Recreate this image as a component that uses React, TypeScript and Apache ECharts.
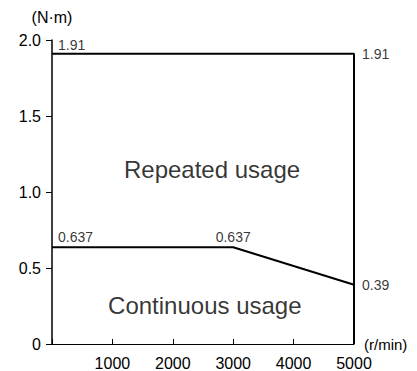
import React, { useEffect, useRef } from "react";
import * as echarts from "echarts";

const repeatedUsage: [number, number][] = [
  [0, 1.91],
  [5000, 1.91],
  [5000, 0],
];
const continuousUsage: [number, number][] = [
  [0, 0.637],
  [3000, 0.637],
  [5000, 0.39],
];
const valueLabels: [number, number][] = [
  [0, 1.91],
  [5000, 1.91],
  [0, 0.637],
  [3000, 0.637],
  [5000, 0.39],
];
const labelOffsets: [number, number][] = [
  [6, -9],
  [8, 0],
  [6, -10],
  [0, -10],
  [8, 0],
];
const labelAligns = ["left", "left", "left", "center", "left"];
const regionNames = ["Repeated usage", "Continuous usage"];
const regionPoints: [number, number][] = [
  [2650, 1.145],
  [2530, 0.255],
];

const FONT = "Liberation Sans, Arial, Helvetica, sans-serif";

export default function App() {
  const ref = useRef<HTMLDivElement>(null);
  useEffect(() => {
    if (!ref.current) return;
    const chart = echarts.init(ref.current, undefined, { renderer: "svg" });
    chart.setOption({
      animation: false,
      backgroundColor: "#ffffff",
      grid: { left: 52, right: 63, top: 40, bottom: 27, containLabel: false },
      xAxis: {
        type: "value",
        min: 0,
        max: 5000,
        interval: 1000,
        name: "(r/min)",
        nameLocation: "end",
        nameGap: 10,
        nameTextStyle: { color: "#000", fontSize: 15, fontFamily: FONT, verticalAlign: "middle" },
        axisLine: { show: true, lineStyle: { color: "#000", width: 1.2 } },
        axisTick: { show: true, inside: true, length: 5, lineStyle: { color: "#000" } },
        axisLabel: {
          color: "#000",
          fontSize: 16,
          fontFamily: FONT,
          margin: 11,
          formatter: (v: number) => (v === 0 ? "" : String(v)),
        },
        splitLine: { show: false },
      },
      yAxis: {
        type: "value",
        min: 0,
        max: 2,
        interval: 0.5,
        name: "(N·m)",
        nameLocation: "end",
        nameGap: 15,
        nameTextStyle: { color: "#000", fontSize: 16, fontFamily: FONT, align: "center" },
        axisLine: { show: true, lineStyle: { color: "#000", width: 1.5 } },
        axisTick: { show: true, inside: false, length: 6, lineStyle: { color: "#000" } },
        axisLabel: {
          color: "#000",
          fontSize: 16,
          fontFamily: FONT,
          margin: 11,
          formatter: (v: number) => (v === 0 ? "0" : v.toFixed(1)),
        },
        splitLine: { show: false },
      },
      series: [
        {
          type: "line",
          data: repeatedUsage,
          symbol: "none",
          lineStyle: { color: "#000", width: 2 },
          silent: true,
        },
        {
          type: "line",
          data: continuousUsage,
          symbol: "none",
          lineStyle: { color: "#000", width: 2 },
          silent: true,
        },
        {
          type: "scatter",
          symbolSize: 0,
          silent: true,
          data: valueLabels.map((p, i) => ({
            value: p,
            label: {
              show: true,
              position: labelOffsets[i],
              align: labelAligns[i],
              verticalAlign: "middle",
              formatter: String(p[1]),
              color: "#000",
              fontSize: 14,
              fontFamily: FONT,
            },
          })),
        },
        {
          type: "scatter",
          symbolSize: 0,
          silent: true,
          data: regionPoints.map((p, i) => ({
            value: p,
            label: {
              show: true,
              position: [0, 0],
              align: "center",
              verticalAlign: "middle",
              formatter: regionNames[i],
              color: "#000",
              fontSize: 24,
              fontFamily: FONT,
            },
          })),
        },
      ],
    });
    return () => chart.dispose();
  }, []);
  return (
    <div
      ref={ref}
      style={{ position: "absolute", left: 0, top: 0, width: 417, height: 371 }}
    />
  );
}
